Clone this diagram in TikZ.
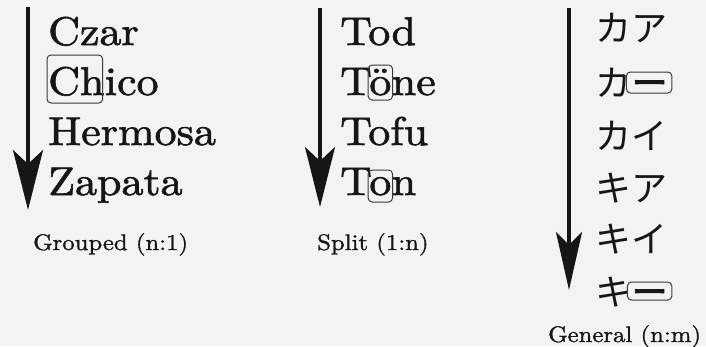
\documentclass[tikz,border=0pt]{standalone}
\usepackage{fontspec}
\usetikzlibrary{arrows.meta,calc}
\newfontfamily\wordfont{lmroman10-regular.otf}[FakeStretch=1.1,FakeBold=1.6]
\newfontfamily\labelfont{lmroman10-regular.otf}[FakeStretch=1.1,FakeBold=1.3]
\newfontfamily\jpfont{Noto Sans CJK JP}
\newfontfamily\jpbarfont{Noto Sans CJK JP}[FakeBold=2.5]
\definecolor{ink}{HTML}{161616}
\definecolor{paper}{HTML}{F3F3F1}
\tikzset{
  word/.style={font=\wordfont\fontsize{40}{40}\selectfont, inner sep=0pt, anchor=base west, text=ink},
  jp/.style={font=\jpfont\fontsize{36}{36}\selectfont, inner sep=0pt, anchor=base west, text=ink},
  jpbar/.style={font=\jpbarfont\fontsize{36}{36}\selectfont, inner sep=0pt, anchor=base west, text=ink},
  caption/.style={font=\labelfont\fontsize{22.5}{22.5}\selectfont, inner sep=0pt, anchor=base west, text=ink},
  axis/.style={draw=ink, line width=3.5pt, -{Stealth[length=60pt,width=30pt,inset=14pt]}},
  axisn/.style={draw=ink, line width=3.5pt, -{Stealth[length=58pt,width=26pt,inset=13pt]}},
  hl/.style={draw=ink!85, line width=1pt, rounded corners=4pt},
}
\begin{document}
\begin{tikzpicture}[x=1pt,y=-1pt]
\fill[paper] (0,0) rectangle (706,346);
\useasboundingbox (0,0) rectangle (706,346);

% ---- Grouped
\coordinate (a1s) at (28,7);
\coordinate (a1e) at (28,210);
\draw[axis] (a1s) -- (a1e);
\node[word] (czar) at (48,45) {Czar};
\node[word] (chC) at (48,95) {Ch};
\node[word] (chR) at (chC.base east) {ico};
\node[word] (herm) at (48,145) {Hermosa};
\node[word] (zap) at (48,195) {Zapata};
\draw[hl] let \p1=(chC.west), \p2=(chC.east) in (\x1-1pt,55) rectangle (\x2-2pt,103);
\node[caption] (cap1) at (33,250) {Grouped (n:1)};

% ---- Split
\coordinate (a2s) at (320,8);
\coordinate (a2e) at (320,207);
\draw[axis] (a2s) -- (a2e);
\node[word] (tod) at (340,45) {Tod};
\node[word] (toA) at (340,95) {T};
\node[word] (toB) at ([xshift=-3pt]toA.base east) {ö};
\node[word] (toC) at (toB.base east) {ne};
\node[word] (tofu) at (340,145) {Tofu};
\node[word] (tnA) at (340,195) {T};
\node[word] (tnB) at ([xshift=-3pt]tnA.base east) {o};
\node[word] (tnC) at (tnB.base east) {n};
\draw[hl] let \p1=(toB.west), \p2=(toB.east) in (\x1-1pt,65) rectangle (\x2+1pt,100);
\draw[hl] let \p1=(tnB.west), \p2=(tnB.east) in (\x1-1pt,170) rectangle (\x2+1pt,202);
\node[caption] (cap2) at (317,250) {Split (1:n)};

% ---- General
\coordinate (a3s) at (569,8);
\coordinate (a3e) at (569,290);
\draw[axisn] (a3s) -- (a3e);
\node[jp] (j1) at (595,41) {カア};
\node[jp] (j2a) at (595,96) {カ};
\node[jpbar] (j2b) at (j2a.base east) {ー};
\node[jp] (j3) at (595,149) {カイ};
\node[jp] (j4) at (595,201) {キア};
\node[jp] (j5) at (595,252) {キイ};
\node[jp] (j6a) at (595,305) {キ};
\node[jpbar] (j6b) at (j6a.base east) {ー};
\draw[hl] let \p1=(j2b.west), \p2=(j2b.east) in (\x1-5pt,72) rectangle (\x2+4pt,93);
\draw[hl] let \p1=(j6b.west), \p2=(j6b.east) in (\x1-4pt,282) rectangle (\x2+4pt,300);
\node[caption] (cap3) at (548,342) {General (n:m)};
\end{tikzpicture}
\end{document}
